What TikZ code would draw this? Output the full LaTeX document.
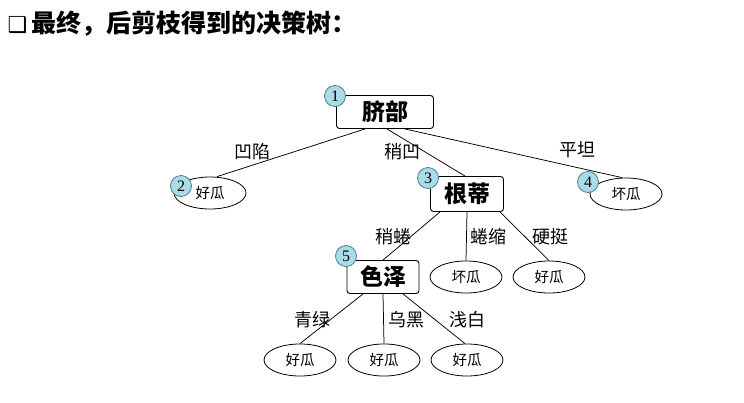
\documentclass[tikz,border=0pt]{standalone}
\usepackage{fontspec}
\setmainfont{Liberation Serif}
\newfontfamily\cjk{Noto Sans CJK SC}
\newfontfamily\sym{DejaVu Sans}
\usetikzlibrary{shapes.geometric}
\definecolor{numfill}{HTML}{A9DCE6}
\definecolor{numline}{HTML}{4A7F8E}
\tikzset{
	attr/.style={draw, line width=0.9pt, rounded corners=3pt, minimum width=97pt, minimum height=33pt, inner sep=0pt, font=\cjk\bfseries\fontsize{23}{23}\selectfont},
	leaf/.style={draw, line width=0.8pt, ellipse, minimum width=72pt, minimum height=32pt, inner sep=0pt, font=\cjk\fontsize{14.5}{14.5}\selectfont},
	num/.style={draw=numline, line width=0.8pt, fill=numfill, circle, minimum size=21pt, inner sep=0pt, font=\fontsize{16}{16}\selectfont},
	lbl/.style={font=\cjk\fontsize{18}{18}\selectfont},
}
\begin{document}
\begin{tikzpicture}[x=1pt, y=-1pt, line width=0.75pt]
		\useasboundingbox (0, 0) rectangle (744, 402);
		\node[anchor=west, font=\cjk\bfseries\fontsize{25}{25}\selectfont] (title) at (4, 24) {{\sym\fontsize{22}{22}\selectfont ❑}\,最终，后剪枝得到的决策树：};
		% nodes
		\node[attr] (navel) at (385, 112) {脐部};
		\node[leaf] (good1) at (210, 193) {好瓜};
		\node[attr, minimum width=73pt, minimum height=35pt] (root) at (467, 194) {根蒂};
		\node[leaf] (bad1) at (626, 194) {坏瓜};
		\node[attr, minimum width=72pt] (color) at (383, 277) {色泽};
		\node[leaf] (bad2) at (466, 277) {坏瓜};
		\node[leaf] (good2) at (549, 277) {好瓜};
		\node[leaf] (good3) at (300, 360) {好瓜};
		\node[leaf] (good4) at (384, 360) {好瓜};
		\node[leaf] (good5) at (467, 360) {好瓜};
		% edges
		\draw ([xshift=-20pt]navel.south) -- ([xshift=7pt]good1.north);
		\draw ([xshift=2pt]navel.south) -- ([xshift=-2pt]root.north);
		\draw ([xshift=20pt]navel.south) -- ([xshift=-4pt]bad1.north);
		\draw ([xshift=-27pt]root.south) -- (color.north);
		\draw (root.south) -- (bad2.north);
		\draw ([xshift=33pt]root.south) -- (good2.north);
		\draw ([xshift=-20pt]color.south) -- (good3.north);
		\draw (color.south) -- (good4.north);
		\draw ([xshift=20pt]color.south) -- ([xshift=-2pt]good5.north);
		% labels
		\node[lbl] (l1) at (252, 152) {凹陷};
		\node[lbl] (l2) at (402, 152) {稍凹};
		\node[lbl] (l3) at (577, 150) {平坦};
		\node[lbl] (l4) at (393, 237) {稍蜷};
		\node[lbl] (l5) at (488, 237) {蜷缩};
		\node[lbl] (l6) at (550, 237) {硬挺};
		\node[lbl] (l7) at (312, 320) {青绿};
		\node[lbl] (l8) at (406, 320) {乌黑};
		\node[lbl] (l9) at (467, 320) {浅白};
		% numbers
		\node[num] (c1) at (335, 96) {1};
		\node[num] (c2) at (181, 186) {2};
		\node[num] (c3) at (428, 178) {3};
		\node[num] (c4) at (588, 182) {4};
		\node[num] (c5) at (346, 256) {5};
	\end{tikzpicture}
\end{document}
